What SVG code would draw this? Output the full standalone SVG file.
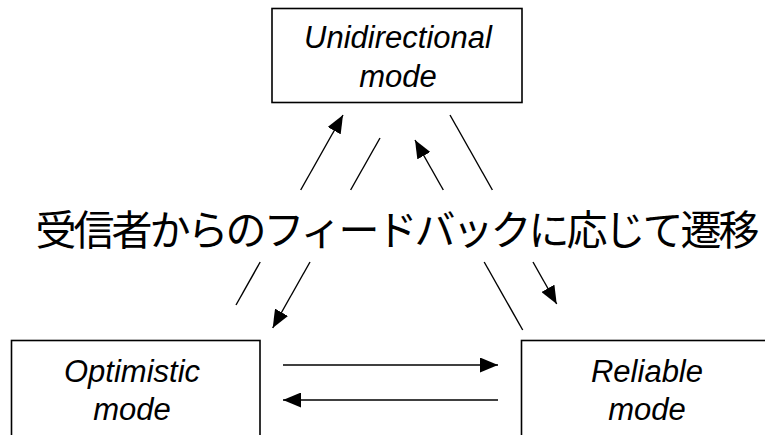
<svg xmlns="http://www.w3.org/2000/svg" width="765" height="435" viewBox="0 0 765 435">
<style>
.box{fill:#fff;stroke:#000;stroke-width:1.6}
.lbl{font-family:"Liberation Sans",Arial,sans-serif;font-style:italic;font-size:31px;fill:#000;text-anchor:middle}
.ln{stroke:#000;stroke-width:1.4;fill:none}
.ja{font-family:"Noto Sans CJK JP","Noto Sans CJK SC",sans-serif;font-size:41px;letter-spacing:-3px;fill:#000;text-anchor:middle}
</style>
<defs>
<marker id="ah" markerUnits="userSpaceOnUse" markerWidth="18" markerHeight="15" refX="18" refY="7.5" orient="auto">
<path d="M0,0 L18,7.5 L0,15 z" fill="#000"/>
</marker>
</defs>
<rect width="765" height="435" fill="#fff"/>
<g id="unidirectional">
<rect class="box" x="272" y="8.5" width="250" height="94"/>
<text class="lbl" x="398" y="48">Unidirectional</text>
<text class="lbl" x="398" y="87">mode</text>
</g>
<g id="optimistic">
<rect class="box" x="11.5" y="340.5" width="248.5" height="110"/>
<text class="lbl" x="132" y="382">Optimistic</text>
<text class="lbl" x="132" y="420">mode</text>
</g>
<g id="reliable">
<rect class="box" x="521.5" y="340.5" width="260" height="110"/>
<text class="lbl" x="647" y="382">Reliable</text>
<text class="lbl" x="647" y="420">mode</text>
</g>
<g id="connectors">
<line class="ln" x1="236" y1="305" x2="260.2" y2="262"/>
<line class="ln" x1="300.7" y1="190" x2="343" y2="115" marker-end="url(#ah)"/>
<line class="ln" x1="380" y1="138" x2="350.6" y2="190"/>
<line class="ln" x1="310" y1="262" x2="272.7" y2="328" marker-end="url(#ah)"/>
<line class="ln" x1="522.7" y1="330" x2="484.2" y2="262"/>
<line class="ln" x1="443.3" y1="190" x2="415" y2="140" marker-end="url(#ah)"/>
<line class="ln" x1="450" y1="115" x2="492.4" y2="190"/>
<line class="ln" x1="533" y1="262" x2="556.7" y2="304" marker-end="url(#ah)"/>
<line class="ln" x1="283" y1="365" x2="498" y2="365" marker-end="url(#ah)"/>
<line class="ln" x1="498" y1="400" x2="283" y2="400" marker-end="url(#ah)"/>
</g>
<text class="ja" x="396" y="245">受信者からのフィードバックに応じて遷移</text>
</svg>
